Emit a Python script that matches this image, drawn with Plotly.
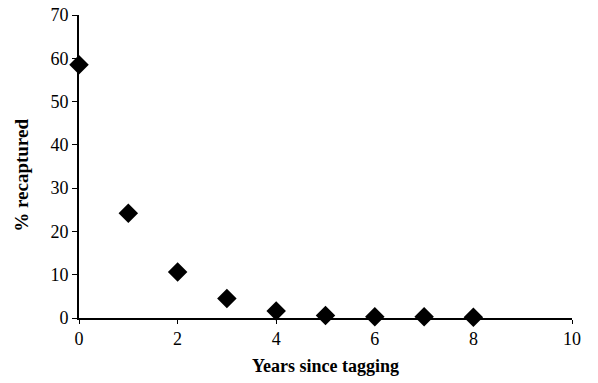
import plotly.graph_objects as go

years = [0, 1, 2, 3, 4, 5, 6, 7, 8]
pct_recaptured = [58.5, 24.2, 10.6, 4.5, 1.6, 0.6, 0.3, 0.3, 0.2]
x_ticks = [0, 2, 4, 6, 8, 10]
y_ticks = [0, 10, 20, 30, 40, 50, 60, 70]

fig = go.Figure(go.Scatter(
    x=years, y=pct_recaptured, mode="markers",
    marker=dict(symbol="diamond", size=15, color="black"),
    cliponaxis=False,
))

serif = "Liberation Serif, Times New Roman, serif"
fig.update_layout(
    width=598, height=383,
    margin=dict(l=79, r=26, t=15, b=65),
    paper_bgcolor="white", plot_bgcolor="white",
    showlegend=False, font=dict(family=serif, color="black"),
    annotations=[dict(
        text="<b>% recaptured</b>", textangle=-90,
        xref="paper", yref="paper", x=-0.116, y=0.472,
        xanchor="center", yanchor="middle", showarrow=False,
        font=dict(family=serif, size=19, color="black"),
    )],
)
fig.update_xaxes(
    range=[0, 10], tickvals=x_ticks, showgrid=False, zeroline=False,
    showline=True, linecolor="black", linewidth=1.5,
    ticks="outside", ticklen=4, tickcolor="black", automargin=False,
    tickfont=dict(family=serif, size=18, color="black"),
    title=dict(text="<b>Years since tagging</b>", standoff=11,
               font=dict(family=serif, size=18, color="black")),
)
fig.update_yaxes(
    range=[0, 70], tickvals=y_ticks, showgrid=False, zeroline=False,
    showline=True, linecolor="black", linewidth=2,
    ticks="outside", ticklen=5, tickcolor="black", automargin=False,
    tickfont=dict(family=serif, size=18, color="black"),
)
fig.write_html("out.html")
